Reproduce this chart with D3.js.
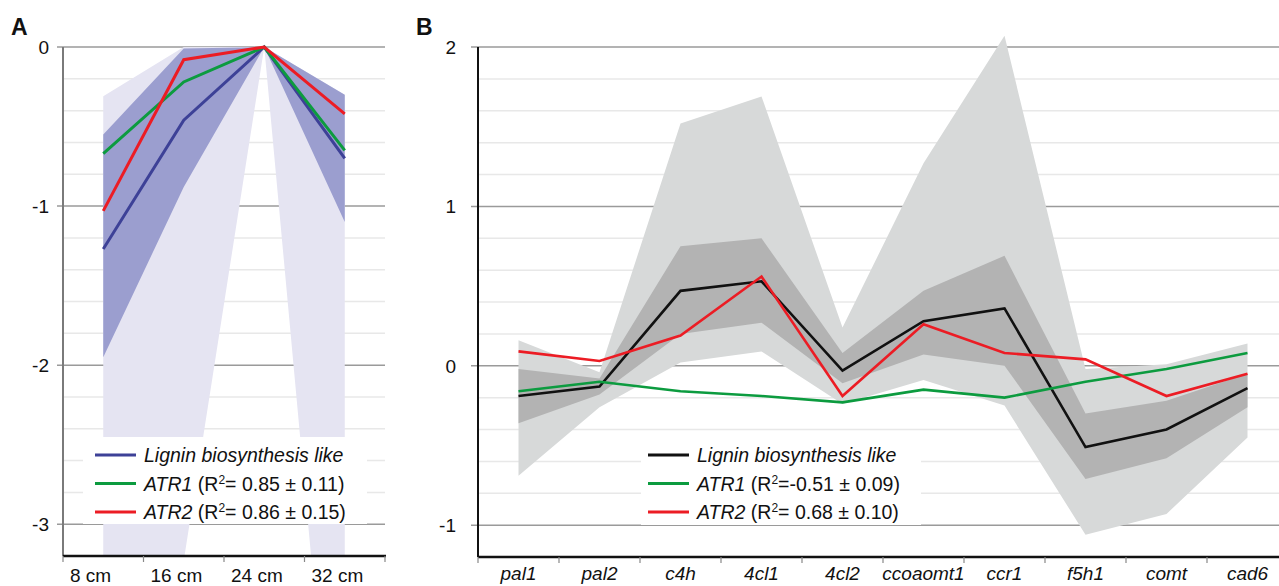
<!DOCTYPE html>
<html>
<head>
<meta charset="utf-8">
<script src="https://cdn.jsdelivr.net/npm/d3@7"></script>
<style>
  body { margin: 0; background: #fff; }
  svg { display: block; font-family: "Liberation Sans", Arial, sans-serif; }
</style>
</head>
<body>
<svg id="chart" width="1279" height="586"></svg>
<script>
// panel A: stem position profiles
const stagesA = ["8 cm", "16 cm", "24 cm", "32 cm"];
const ligninA = [-1.27, -0.46, 0, -0.70];
const atr1A   = [-0.67, -0.22, 0, -0.65];
const atr2A   = [-1.03, -0.08, 0, -0.42];
const innerHiA = [-0.55, -0.01, 0, -0.30];
const innerLoA = [-1.95, -0.88, 0, -1.10];
const outerHiA = [-0.31, 0, 0, -0.30];
const outerLoA = [-3.6, -3.23, 0, -5.5];

// panel B: genes
const genes = ["pal1", "pal2", "c4h", "4cl1", "4cl2", "ccoaomt1", "ccr1", "f5h1", "comt", "cad6"];
const ligninB = [-0.19, -0.13, 0.47, 0.53, -0.03, 0.28, 0.36, -0.51, -0.40, -0.14];
const atr1B   = [-0.16, -0.10, -0.16, -0.19, -0.23, -0.15, -0.20, -0.10, -0.02, 0.08];
const atr2B   = [0.09, 0.03, 0.19, 0.56, -0.19, 0.26, 0.08, 0.04, -0.19, -0.05];
const innerHiB = [-0.02, -0.08, 0.75, 0.80, 0.08, 0.47, 0.69, -0.30, -0.22, -0.05];
const innerLoB = [-0.36, -0.18, 0.20, 0.27, -0.11, 0.07, 0.00, -0.71, -0.58, -0.26];
const outerHiB = [0.16, -0.04, 1.52, 1.69, 0.24, 1.27, 2.07, -0.02, 0.01, 0.14];
const outerLoB = [-0.69, -0.26, 0.02, 0.09, -0.24, -0.09, -0.25, -1.06, -0.93, -0.45];

const legendA = [
  { color: "#3d4197", name: "Lignin biosynthesis like", stat: null },
  { color: "#0c9b3f", name: "ATR1", stat: "= 0.85 ± 0.11)" },
  { color: "#ec1c24", name: "ATR2", stat: "= 0.86 ± 0.15)" }
];
const legendB = [
  { color: "#111", name: "Lignin biosynthesis like", stat: null },
  { color: "#0c9b3f", name: "ATR1", stat: "=-0.51 ± 0.09)" },
  { color: "#ec1c24", name: "ATR2", stat: "= 0.68 ± 0.10)" }
];

const svg = d3.select("#chart");
const W = +svg.attr("width");

function drawPanel(p) {
  const g = svg.append("g");
  const x = d3.scaleBand().domain(p.cats).range([p.left, p.right]);
  const y = d3.scaleLinear().domain(p.domain).range([p.bottom, p.top]);
  const cx = d => x(d) + x.bandwidth() / 2;
  const isMajor = v => Math.abs(v - Math.round(v)) < 1e-6;

  // gridlines
  const ticks = y.ticks(16).filter(v => v > p.domain[0] + 1e-6);
  ticks.filter(v => !isMajor(v)).forEach(v => {
    g.append("line")
      .attr("x1", p.left).attr("x2", p.gridRight)
      .attr("y1", y(v)).attr("y2", y(v))
      .attr("stroke", "#e8e8e8").attr("stroke-width", 1.5);
  });
  ticks.filter(isMajor).forEach(v => {
    g.append("line")
      .attr("x1", p.left - p.tickLen).attr("x2", p.gridRight)
      .attr("y1", y(v)).attr("y2", y(v))
      .attr("stroke", "#9a9a9a").attr("stroke-width", 1.5);
    g.append("text")
      .attr("x", p.labelX).attr("y", y(v))
      .attr("dy", "0.36em")
      .attr("text-anchor", "end")
      .attr("font-size", 19)
      .attr("fill", "#111")
      .text(String(Math.round(v)));
  });

  // bands
  const clipId = "clip" + p.id;
  g.append("clipPath").attr("id", clipId)
    .append("rect")
    .attr("x", p.left).attr("y", 0)
    .attr("width", p.right - p.left).attr("height", p.bottom);
  const band = (hi, lo) => d3.area()
    .x((d, i) => cx(p.cats[i]))
    .y0((d, i) => y(lo[i]))
    .y1((d, i) => y(hi[i]))(p.cats);
  g.append("path").attr("d", band(p.outerHi, p.outerLo))
    .attr("fill", p.outerColor).attr("clip-path", `url(#${clipId})`);
  g.append("path").attr("d", band(p.innerHi, p.innerLo))
    .attr("fill", p.innerColor).attr("clip-path", `url(#${clipId})`);

  // axes
  g.append("line")
    .attr("x1", p.left).attr("x2", p.left)
    .attr("y1", y(p.domain[1])).attr("y2", p.bottom)
    .attr("stroke", p.yAxisColor).attr("stroke-width", 2);
  g.append("line")
    .attr("x1", p.left).attr("x2", p.axisRight)
    .attr("y1", p.bottom).attr("y2", p.bottom)
    .attr("stroke", "#111").attr("stroke-width", 2.5);
  p.cats.concat([null]).forEach(c => {
    const xx = c === null ? p.left + x.bandwidth() * p.cats.length : x(c);
    g.append("line")
      .attr("x1", xx).attr("x2", xx)
      .attr("y1", p.bottom).attr("y2", p.bottom + 6)
      .attr("stroke", "#888").attr("stroke-width", 1.2);
  });
  p.cats.forEach(c => {
    g.append("text")
      .attr("x", p.xLabelStart ? x(c) + 7 : cx(c))
      .attr("y", p.xLabelY)
      .attr("text-anchor", p.xLabelStart ? "start" : "middle")
      .attr("font-size", 19)
      .attr("font-style", p.xItalic ? "italic" : "normal")
      .attr("fill", "#111")
      .text(c);
  });

  // series lines
  const line = d3.line().x((d, i) => cx(p.cats[i])).y(d => y(d));
  p.series.forEach(s => {
    g.append("path").attr("d", line(s.values))
      .attr("fill", "none")
      .attr("stroke", s.color)
      .attr("stroke-width", p.lineWidth)
      .attr("stroke-linejoin", "miter");
  });

  // legend
  const lg = p.legend;
  g.append("rect")
    .attr("x", lg.x).attr("y", lg.y)
    .attr("width", lg.w).attr("height", lg.h)
    .attr("fill", "#fff");
  lg.items.forEach((it, i) => {
    const ly = lg.firstY + i * 28.5;
    g.append("line")
      .attr("x1", lg.lineX).attr("x2", lg.lineX + 41)
      .attr("y1", ly).attr("y2", ly)
      .attr("stroke", it.color).attr("stroke-width", 3);
    const t = g.append("text")
      .attr("x", lg.lineX + 49).attr("y", ly + 7)
      .attr("font-size", 19.5).attr("fill", "#111");
    t.append("tspan").attr("font-style", "italic").text(it.name);
    if (it.stat) {
      t.append("tspan").text(" (R");
      t.append("tspan").attr("font-size", 12).attr("dy", -7).text("2");
      t.append("tspan").attr("dy", 7).text(it.stat);
    }
  });

  // panel letter
  g.append("text")
    .attr("x", p.letterX).attr("y", 35)
    .attr("font-size", 23).attr("font-weight", "bold")
    .attr("fill", "#111")
    .text(p.id);
}

drawPanel({
  id: "A",
  cats: stagesA,
  left: 63, right: 385, gridRight: 385, axisRight: 386,
  top: 47, bottom: 556, domain: [-3.2, 0],
  tickLen: 6, labelX: 49, yAxisColor: "#7a7a7a",
  xLabelStart: true, xItalic: false, xLabelY: 582,
  outerHi: outerHiA, outerLo: outerLoA, innerHi: innerHiA, innerLo: innerLoA,
  outerColor: "#e5e4f2", innerColor: "#9b9ecf",
  lineWidth: 3,
  series: [
    { values: ligninA, color: "#3d4197" },
    { values: atr1A, color: "#0c9b3f" },
    { values: atr2A, color: "#ec1c24" }
  ],
  legend: { x: 83, y: 437, w: 284, h: 87, lineX: 95, firstY: 455, items: legendA },
  letterX: 11
});

drawPanel({
  id: "B",
  cats: genes,
  left: 478, right: 1288, gridRight: W, axisRight: W,
  top: 47, bottom: 557, domain: [-1.2, 2],
  tickLen: 7, labelX: 456, yAxisColor: "#111",
  xLabelStart: false, xItalic: true, xLabelY: 580,
  outerHi: outerHiB, outerLo: outerLoB, innerHi: innerHiB, innerLo: innerLoB,
  outerColor: "#d7d9d9", innerColor: "#b3b3b3",
  lineWidth: 2.6,
  series: [
    { values: ligninB, color: "#111" },
    { values: atr1B, color: "#0c9b3f" },
    { values: atr2B, color: "#ec1c24" }
  ],
  legend: { x: 641, y: 437, w: 280, h: 88, lineX: 648, firstY: 455, items: legendB },
  letterX: 416
});
</script>
</body>
</html>
